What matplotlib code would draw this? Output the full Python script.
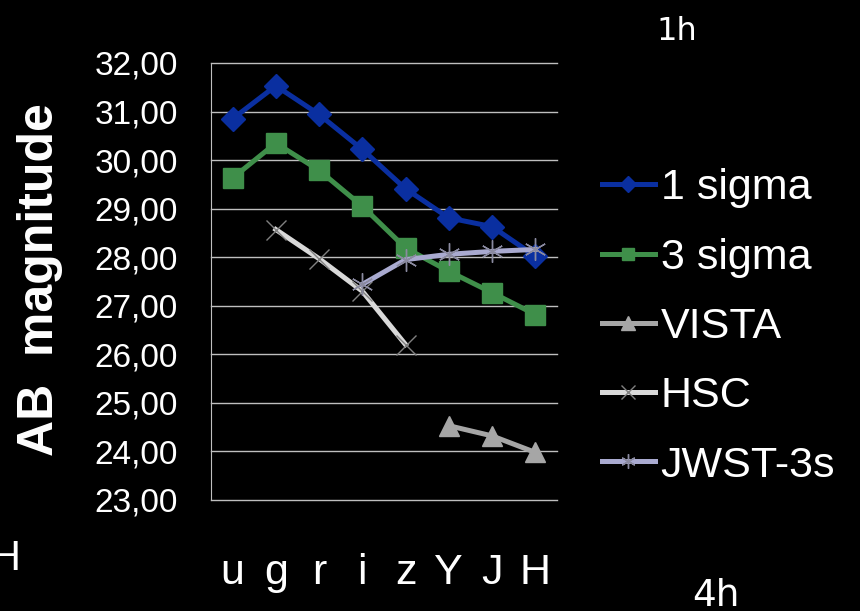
import matplotlib.pyplot as plt
import numpy as np

# AB magnitude depth per filter
bands = ["u", "g", "r", "i", "z", "Y", "J", "H"]
sigma1 = [30.85, 31.53, 30.94, 30.22, 29.41, 28.81, 28.63, 28.02]
sigma3 = [29.63, 30.35, 29.79, 29.05, 28.19, 27.71, 27.27, 26.82]
vista = [None, None, None, None, None, 24.53, 24.32, 23.98]
hsc = [None, 28.57, 27.97, 27.30, 26.20, None, None, None]
jwst = [None, None, None, 27.44, 27.95, 28.06, 28.12, 28.16]


def arr(vals):
    return np.array([np.nan if v is None else v for v in vals], dtype=float)


asterisk = (6, 2, 0)

fig = plt.figure(figsize=(8.6, 6.11), dpi=100, facecolor="black")
ax = fig.add_axes([0.2453, 0.1817, 0.4023, 0.7152], facecolor="black")
x = np.arange(len(bands))

ax.plot(x, arr(sigma1), color="#0a2fa0", lw=3.6, marker="D", ms=12,
        label="1 sigma", zorder=3)
ax.plot(x, arr(sigma3), color="#3f8f4a", lw=3.6, marker="s", ms=14,
        label="3 sigma", zorder=4)
ax.plot(x, arr(vista), color="#a6a6a6", lw=3.6, marker="^", ms=15,
        label="VISTA", zorder=5)
ax.plot(x, arr(hsc), color="#d9d9d9", lw=3.6, marker="x", ms=15,
        mec="#808080", mew=1.0, label="HSC", zorder=6)
ax.plot(x, arr(jwst), color="#a9aad0", lw=3.6, marker=asterisk, ms=16,
        mec="#8a8aa0", mew=1.0, label="JWST-3s", zorder=7)

ax.set_xlim(-0.5, len(bands) - 0.5)
ax.set_ylim(23, 32)
ax.set_yticks(np.arange(23, 33, 1))
ax.set_yticklabels([f"{v:.2f}".replace(".", ",") for v in range(23, 33)],
                   fontsize=24, color="white", family="Liberation Sans")
ax.set_xticks(x)
ax.set_xticklabels(bands, fontsize=31, color="white",
                   family="Liberation Sans")
ax.tick_params(axis="both", length=0)
ax.tick_params(axis="y", pad=24)
ax.tick_params(axis="x", pad=38)
ax.grid(axis="y", color="#bfbfbf", lw=1)
for gl in ax.get_ygridlines():
    gl.set_clip_on(False)
ax.set_axisbelow(True)
for s in ["top", "right", "bottom"]:
    ax.spines[s].set_visible(False)
ax.spines["left"].set_color("#bfbfbf")

fig.text(40 / 860, 1 - 280 / 611, "AB  magnitude", rotation=90, color="white",
         fontsize=36, fontweight="bold", family="Liberation Sans",
         ha="center", va="center")

leg = fig.legend(loc="center left", bbox_to_anchor=(580 / 860, 1 - 327 / 611),
                 frameon=False, handlelength=1.25,
                 handletextpad=0.12, labelspacing=0.68, borderpad=0,
                 markerscale=0.65, prop={"family": "Liberation Sans", "size": 31})
for t in leg.get_texts():
    t.set_color("white")

fig.text(677 / 860, 1 - 31 / 611, "1h", color="white", fontsize=23,
         ha="center", va="center")
fig.text(716 / 860, 1 - 596 / 611, "4h", color="white", fontsize=27,
         ha="center", va="center")
fig.text(21 / 860, 1 - 559 / 611, "H", color="white", fontsize=30,
         ha="right", va="center", family="Liberation Sans")

fig.savefig("out.png", dpi=100, facecolor="black")
